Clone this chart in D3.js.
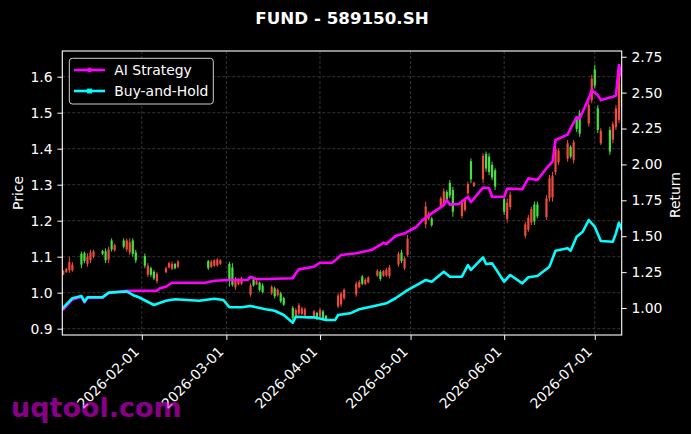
<!DOCTYPE html>
<html>
<head>
<meta charset="utf-8">
<script src="https://cdn.jsdelivr.net/npm/d3@7"></script>
<style>
	body { margin: 0; background: #000; }
	svg text { font-family: "DejaVu Sans", sans-serif; }
</style>
</head>
<body>
<div id="chart"></div>
<script>
// candles (price axis), one per trading day
const candleDates = [
	"2026-01-06", "2026-01-07", "2026-01-08", "2026-01-09",
	"2026-01-12", "2026-01-13", "2026-01-14", "2026-01-15", "2026-01-16",
	"2026-01-19", "2026-01-20", "2026-01-21", "2026-01-22", "2026-01-23",
	"2026-01-26", "2026-01-27", "2026-01-28", "2026-01-29", "2026-01-30",
	"2026-02-02", "2026-02-03", "2026-02-04", "2026-02-05", "2026-02-06",
	"2026-02-09", "2026-02-10", "2026-02-11", "2026-02-12", "2026-02-13",
	"2026-02-23", "2026-02-24", "2026-02-25", "2026-02-26", "2026-02-27",
	"2026-03-02", "2026-03-03", "2026-03-04", "2026-03-05", "2026-03-06",
	"2026-03-09", "2026-03-10", "2026-03-11", "2026-03-12", "2026-03-13",
	"2026-03-16", "2026-03-17", "2026-03-18", "2026-03-19", "2026-03-20",
	"2026-03-23", "2026-03-24", "2026-03-25", "2026-03-26", "2026-03-27",
	"2026-03-30", "2026-03-31", "2026-04-01", "2026-04-02", "2026-04-03",
	"2026-04-07", "2026-04-08", "2026-04-09",
	"2026-04-13", "2026-04-14", "2026-04-15", "2026-04-16", "2026-04-17",
	"2026-04-20", "2026-04-21", "2026-04-22", "2026-04-23", "2026-04-24",
	"2026-04-27", "2026-04-28", "2026-04-29", "2026-04-30",
	"2026-05-06", "2026-05-07", "2026-05-08",
	"2026-05-11", "2026-05-12", "2026-05-13", "2026-05-14", "2026-05-15",
	"2026-05-18", "2026-05-19", "2026-05-20", "2026-05-21", "2026-05-22",
	"2026-05-25", "2026-05-26", "2026-05-27", "2026-05-28", "2026-05-29",
	"2026-06-01", "2026-06-02", "2026-06-03",
	"2026-06-08", "2026-06-09", "2026-06-10", "2026-06-11", "2026-06-12",
	"2026-06-15", "2026-06-16", "2026-06-17", "2026-06-18", "2026-06-19",
	"2026-06-22", "2026-06-23", "2026-06-24", "2026-06-25", "2026-06-26",
	"2026-06-29", "2026-06-30", "2026-07-01", "2026-07-02", "2026-07-03",
	"2026-07-06", "2026-07-07", "2026-07-08", "2026-07-09", "2026-07-10",
];
const candleOpen = [
	1.051, 1.057, 1.062, 1.062,
	1.108, 1.110, 1.080, 1.090, 1.100,
	1.116, 1.115, 1.092, 1.145, 1.118,
	1.145, 1.120, 1.112, 1.145, 1.112,
	1.102, 1.050, 1.068, 1.058, 1.032,
	1.057, 1.070, 1.066, 1.080, 1.072,
	1.088, 1.072, 1.075, 1.076, 1.080,
	1.080, 1.070, 1.015, 1.024, 1.025,
	0.995, 1.036, 1.023, 1.028, 1.020,
	0.998, 1.012, 0.993, 0.998, 0.985,
	0.958, 0.933, 0.942, 0.941, 0.937,
	0.933, 0.944, 0.933, 0.948, 0.936,
	0.962, 0.968, 0.985,
	0.995, 1.015, 1.045, 1.024, 1.029,
	1.047, 1.058, 1.047, 1.048, 1.046,
	1.078, 1.112, 1.068, 1.105,
	1.190, 1.205, 1.206,
	1.242, 1.250, 1.280, 1.305, 1.285,
	1.213, 1.230, 1.276, 1.365, 1.296,
	1.315, 1.385, 1.378, 1.355, 1.340,
	1.260, 1.205, 1.238,
	1.158, 1.175, 1.195, 1.245, 1.245,
	1.210, 1.262, 1.265, 1.335, 1.362,
	1.372, 1.405, 1.368, 1.485, 1.498,
	1.470, 1.535, 1.620, 1.512, 1.415,
	1.452, 1.425, 1.460, 1.480, 1.580,
];
const candleHigh = [
	1.063, 1.069, 1.099, 1.085,
	1.114, 1.114, 1.109, 1.119, 1.119,
	1.119, 1.123, 1.128, 1.151, 1.137,
	1.151, 1.151, 1.151, 1.151, 1.119,
	1.109, 1.082, 1.072, 1.063, 1.058,
	1.072, 1.086, 1.086, 1.082, 1.091,
	1.091, 1.091, 1.093, 1.096, 1.093,
	1.086, 1.082, 1.044, 1.040, 1.044,
	1.026, 1.040, 1.035, 1.031, 1.026,
	1.021, 1.017, 1.012, 1.003, 0.989,
	0.963, 0.957, 0.971, 0.961, 0.959,
	0.952, 0.947, 0.957, 0.952, 0.938,
	0.998, 1.003, 1.012,
	1.031, 1.035, 1.049, 1.040, 1.046,
	1.065, 1.063, 1.063, 1.068, 1.077,
	1.114, 1.119, 1.100, 1.160,
	1.253, 1.225, 1.211,
	1.267, 1.290, 1.285, 1.313, 1.294,
	1.258, 1.262, 1.308, 1.373, 1.308,
	1.387, 1.392, 1.387, 1.364, 1.346,
	1.267, 1.262, 1.281,
	1.197, 1.216, 1.239, 1.253, 1.253,
	1.271, 1.327, 1.336, 1.410, 1.401,
	1.424, 1.410, 1.424, 1.489, 1.508,
	1.531, 1.605, 1.633, 1.521, 1.457,
	1.461, 1.475, 1.521, 1.623, 1.590,
];
const candleLow = [
	1.049, 1.055, 1.055, 1.058,
	1.068, 1.082, 1.072, 1.082, 1.096,
	1.105, 1.082, 1.082, 1.114, 1.114,
	1.123, 1.114, 1.105, 1.100, 1.082,
	1.068, 1.044, 1.044, 1.035, 1.026,
	1.054, 1.068, 1.063, 1.065, 1.068,
	1.063, 1.068, 1.072, 1.072, 1.077,
	1.017, 1.017, 1.008, 1.021, 1.021,
	0.989, 1.017, 1.021, 1.003, 0.998,
	0.994, 0.984, 0.989, 0.971, 0.963,
	0.924, 0.929, 0.938, 0.938, 0.933,
	0.929, 0.924, 0.929, 0.924, 0.924,
	0.957, 0.961, 0.980,
	0.989, 1.012, 1.021, 1.021, 1.026,
	1.044, 1.033, 1.044, 1.044, 1.040,
	1.072, 1.082, 1.063, 1.100,
	1.179, 1.202, 1.183,
	1.239, 1.244, 1.253, 1.262, 1.211,
	1.207, 1.225, 1.271, 1.304, 1.294,
	1.304, 1.336, 1.327, 1.313, 1.285,
	1.216, 1.195, 1.230,
	1.151, 1.169, 1.188, 1.188, 1.207,
	1.202, 1.253, 1.253, 1.327, 1.355,
	1.364, 1.373, 1.359, 1.447, 1.433,
	1.461, 1.526, 1.568, 1.443, 1.410,
	1.383, 1.415, 1.452, 1.471, 1.507,
];
const candleClose = [
	1.060, 1.066, 1.085, 1.078,
	1.078, 1.088, 1.100, 1.112, 1.115,
	1.108, 1.090, 1.120, 1.120, 1.132,
	1.128, 1.145, 1.140, 1.108, 1.090,
	1.075, 1.075, 1.050, 1.040, 1.052,
	1.068, 1.082, 1.080, 1.068, 1.086,
	1.068, 1.086, 1.090, 1.092, 1.090,
	1.035, 1.022, 1.038, 1.036, 1.040,
	1.020, 1.020, 1.032, 1.008, 1.002,
	1.016, 0.990, 1.008, 0.976, 0.967,
	0.930, 0.952, 0.965, 0.956, 0.954,
	0.948, 0.928, 0.952, 0.928, 0.927,
	0.992, 0.998, 1.008,
	1.025, 1.030, 1.025, 1.036, 1.042,
	1.061, 1.038, 1.060, 1.064, 1.070,
	1.108, 1.088, 1.095, 1.150,
	1.240, 1.220, 1.188,
	1.262, 1.282, 1.258, 1.270, 1.225,
	1.250, 1.258, 1.302, 1.315, 1.305,
	1.380, 1.345, 1.335, 1.320, 1.295,
	1.225, 1.250, 1.272,
	1.190, 1.208, 1.232, 1.198, 1.212,
	1.262, 1.318, 1.325, 1.400, 1.395,
	1.415, 1.378, 1.418, 1.455, 1.442,
	1.522, 1.595, 1.575, 1.452, 1.450,
	1.392, 1.468, 1.512, 1.610, 1.515,
];

// cumulative return lines (return axis)
const strategyDates = [
	"2026-01-05", "2026-01-06", "2026-01-09", "2026-01-12", "2026-01-13", "2026-01-14",
	"2026-01-19", "2026-01-21", "2026-01-27", "2026-02-06", "2026-02-07", "2026-02-09",
	"2026-02-11", "2026-02-22", "2026-02-25", "2026-03-02", "2026-03-08", "2026-03-09",
	"2026-03-11", "2026-03-23", "2026-03-24", "2026-03-25", "2026-03-30", "2026-04-01",
	"2026-04-05", "2026-04-06", "2026-04-07", "2026-04-08", "2026-04-13", "2026-04-18",
	"2026-04-21", "2026-04-22", "2026-04-23", "2026-04-26", "2026-04-29", "2026-05-03",
	"2026-05-05", "2026-05-08", "2026-05-12", "2026-05-13", "2026-05-14", "2026-05-17",
	"2026-05-20", "2026-05-21", "2026-05-25", "2026-05-27", "2026-05-28", "2026-06-01",
	"2026-06-02", "2026-06-07", "2026-06-09", "2026-06-12", "2026-06-15", "2026-06-17",
	"2026-06-18", "2026-06-22", "2026-06-23", "2026-06-25", "2026-06-26", "2026-06-29",
	"2026-06-30", "2026-07-02", "2026-07-03", "2026-07-07", "2026-07-08", "2026-07-09",
	"2026-07-10",
];
const strategyValues = [
	0.980, 0.990, 1.060, 1.078, 1.040, 1.070,
	1.072, 1.105, 1.120, 1.120, 1.137, 1.148,
	1.176, 1.176, 1.190, 1.195, 1.195, 1.218,
	1.200, 1.207, 1.242, 1.269, 1.288, 1.315,
	1.315, 1.330, 1.350, 1.369, 1.381, 1.404,
	1.439, 1.455, 1.446, 1.501, 1.520, 1.566,
	1.613, 1.659, 1.717, 1.752, 1.720, 1.724,
	1.775, 1.738, 1.839, 1.834, 1.775, 1.775,
	1.832, 1.827, 1.903, 1.891, 1.973, 2.019,
	2.170, 2.208, 2.251, 2.330, 2.320, 2.460,
	2.518, 2.483, 2.448, 2.471, 2.480, 2.692,
	2.609,
];
const holdDates = [
	"2026-01-05", "2026-01-06", "2026-01-09", "2026-01-12", "2026-01-13", "2026-01-14",
	"2026-01-19", "2026-01-21", "2026-01-27", "2026-01-29", "2026-01-31", "2026-02-05",
	"2026-02-09", "2026-02-12", "2026-02-20", "2026-02-25", "2026-02-28", "2026-03-02",
	"2026-03-06", "2026-03-09", "2026-03-14", "2026-03-17", "2026-03-20", "2026-03-23",
	"2026-03-24", "2026-03-28", "2026-03-30", "2026-04-03", "2026-04-06", "2026-04-07",
	"2026-04-11", "2026-04-14", "2026-04-19", "2026-04-23", "2026-04-26", "2026-04-30",
	"2026-05-03", "2026-05-06", "2026-05-08", "2026-05-12", "2026-05-14", "2026-05-18",
	"2026-05-20", "2026-05-21", "2026-05-25", "2026-05-26", "2026-05-28", "2026-06-01",
	"2026-06-03", "2026-06-07", "2026-06-09", "2026-06-12", "2026-06-16", "2026-06-18",
	"2026-06-22", "2026-06-23", "2026-06-25", "2026-06-27", "2026-06-29", "2026-07-01",
	"2026-07-03", "2026-07-07", "2026-07-08", "2026-07-09", "2026-07-10",
];
const holdValues = [
	0.990, 1.003, 1.068, 1.084, 1.044, 1.075,
	1.075, 1.107, 1.115, 1.091, 1.075, 1.021,
	1.051, 1.061, 1.051, 1.065, 1.056, 1.005,
	1.005, 1.014, 0.991, 0.981, 0.951, 0.898,
	0.939, 0.935, 0.935, 0.916, 0.916, 0.951,
	0.963, 0.991, 1.014, 1.033, 1.068, 1.125,
	1.160, 1.195, 1.183, 1.253, 1.218, 1.218,
	1.299, 1.265, 1.353, 1.306, 1.311, 1.183,
	1.230, 1.172, 1.214, 1.223, 1.288, 1.399,
	1.416, 1.399, 1.497, 1.531, 1.613, 1.566,
	1.467, 1.462, 1.520, 1.594, 1.543,
];

const priceTicks = [0.9, 1.0, 1.1, 1.2, 1.3, 1.4, 1.5, 1.6];
const returnTicks = [1.0, 1.25, 1.5, 1.75, 2.0, 2.25, 2.5, 2.75];
const dateTicks = ["2026-02-01", "2026-03-01", "2026-04-01", "2026-05-01", "2026-06-01", "2026-07-01"];

const width = 691;
const height = 434;
const plot = { left: 62.3, right: 621.7, top: 51, bottom: 335 };
const fontSize = 13.9;
const upColor = "#ef4a3c";
const downColor = "#46e03c";

const parseDate = d3.timeParse("%Y-%m-%d");

const svg = d3
	.select("#chart")
	.append("svg")
	.attr("width", width)
	.attr("height", height)
	.style("background", "#000");

const x = d3
	.scaleTime()
	.domain([new Date(2026, 0, 5, 16), new Date(2026, 6, 9, 22)])
	.range([plot.left, plot.right]);

const yPrice = d3.scaleLinear().domain([0.8825, 1.6714]).range([plot.bottom, plot.top]);
const yReturn = d3.scaleLinear().domain([0.812, 2.79]).range([plot.bottom, plot.top]);

svg.append("defs")
	.append("clipPath")
	.attr("id", "plot-clip")
	.append("rect")
	.attr("x", plot.left)
	.attr("y", plot.top)
	.attr("width", plot.right - plot.left)
	.attr("height", plot.bottom - plot.top);

// grid
const grid = svg.append("g").attr("stroke", "#4a4a4a").attr("stroke-width", 0.7).attr("stroke-dasharray", "3,2");
grid.selectAll("line.h")
	.data(priceTicks)
	.enter()
	.append("line")
	.attr("x1", plot.left)
	.attr("x2", plot.right)
	.attr("y1", (d) => yPrice(d))
	.attr("y2", (d) => yPrice(d));
grid.selectAll("line.v")
	.data(dateTicks)
	.enter()
	.append("line")
	.attr("x1", (d) => x(parseDate(d)))
	.attr("x2", (d) => x(parseDate(d)))
	.attr("y1", plot.top)
	.attr("y2", plot.bottom);

const plotArea = svg.append("g").attr("clip-path", "url(#plot-clip)");

// candlesticks
const candles = candleDates.map((d, i) => ({
	date: parseDate(d),
	open: candleOpen[i],
	high: candleHigh[i],
	low: candleLow[i],
	close: candleClose[i],
}));

const candle = plotArea
	.selectAll("g.candle")
	.data(candles)
	.enter()
	.append("g")
	.attr("class", "candle")
	.attr("fill", (d) => (d.close >= d.open ? upColor : downColor))
	.attr("stroke", (d) => (d.close >= d.open ? upColor : downColor));

candle.append("line")
	.attr("x1", (d) => x(d.date))
	.attr("x2", (d) => x(d.date))
	.attr("y1", (d) => yPrice(d.high))
	.attr("y2", (d) => yPrice(d.low))
	.attr("stroke-width", 1);

candle.append("rect")
	.attr("x", (d) => x(d.date) - 1.1)
	.attr("width", 2.2)
	.attr("y", (d) => yPrice(Math.max(d.open, d.close)))
	.attr("height", (d) => Math.max(1, Math.abs(yPrice(d.open) - yPrice(d.close))))
	.attr("stroke", "none");

// return lines
const line = d3
	.line()
	.x((d) => x(d.date))
	.y((d) => yReturn(d.value));

const strategy = strategyDates.map((d, i) => ({ date: parseDate(d), value: strategyValues[i] }));
const hold = holdDates.map((d, i) => ({ date: parseDate(d), value: holdValues[i] }));

plotArea.append("path")
	.datum(strategy)
	.attr("d", line)
	.attr("fill", "none")
	.attr("stroke", "#ff00ff")
	.attr("stroke-width", 2.6)
	.attr("stroke-linejoin", "round");

plotArea.append("path")
	.datum(hold)
	.attr("d", line)
	.attr("fill", "none")
	.attr("stroke", "#00ffff")
	.attr("stroke-width", 2.6)
	.attr("stroke-linejoin", "round");

// axes
function styleAxis(g) {
	g.select(".domain").remove();
	g.selectAll(".tick line").attr("stroke", "#fff").attr("stroke-width", 1);
	g.selectAll(".tick text")
		.attr("fill", "#fff")
		.style("font-size", fontSize + "px")
		.style("font-family", "DejaVu Sans");
}

svg.append("g")
	.attr("transform", `translate(${plot.left},0)`)
	.call(d3.axisLeft(yPrice).tickValues(priceTicks).tickFormat(d3.format(".1f")).tickSize(4.9).tickPadding(4.9))
	.call(styleAxis);

svg.append("g")
	.attr("transform", `translate(${plot.right},0)`)
	.call(d3.axisRight(yReturn).tickValues(returnTicks).tickFormat(d3.format(".2f")).tickSize(4.9).tickPadding(4.9))
	.call(styleAxis);

const xAxis = svg
	.append("g")
	.attr("transform", `translate(0,${plot.bottom})`)
	.call(d3.axisBottom(x).tickValues(dateTicks.map(parseDate)).tickFormat(d3.timeFormat("%Y-%m-%d")).tickSize(4.9))
	.call(styleAxis);

// rotated date labels, right end anchored under the tick
xAxis.selectAll(".tick text")
	.attr("text-anchor", "end")
	.attr("x", -2.3)
	.attr("y", 17.5)
	.attr("dy", 0)
	.attr("transform", "rotate(-45,-2.3,17.5)");

// frame
svg.append("rect")
	.attr("x", plot.left)
	.attr("y", plot.top)
	.attr("width", plot.right - plot.left)
	.attr("height", plot.bottom - plot.top)
	.attr("fill", "none")
	.attr("stroke", "#fff")
	.attr("stroke-width", 1.1);

// labels
svg.append("text")
	.attr("x", (plot.left + plot.right) / 2)
	.attr("y", 24)
	.attr("text-anchor", "middle")
	.attr("fill", "#fff")
	.style("font-size", "16.7px")
	.style("font-weight", "bold")
	.text("FUND - 589150.SH");

svg.append("text")
	.attr("transform", `translate(23.3,${(plot.top + plot.bottom) / 2}) rotate(-90)`)
	.attr("text-anchor", "middle")
	.attr("fill", "#fff")
	.style("font-size", fontSize + "px")
	.text("Price");

svg.append("text")
	.attr("transform", `translate(680,${(plot.top + plot.bottom) / 2 + 2}) rotate(-90)`)
	.attr("text-anchor", "middle")
	.attr("fill", "#fff")
	.style("font-size", fontSize + "px")
	.text("Return");

// legend
const legend = svg.append("g").attr("transform", "translate(69.3,58.3)");
legend.append("rect")
	.attr("width", 144)
	.attr("height", 45.7)
	.attr("rx", 3)
	.attr("fill", "#000")
	.attr("stroke", "#cfcfcf")
	.attr("stroke-width", 1);

const legendItems = [
	{ name: "AI Strategy", color: "#ff00ff", marker: "circle" },
	{ name: "Buy-and-Hold", color: "#00ffff", marker: "square" },
];

const legendRow = legend
	.selectAll("g.item")
	.data(legendItems)
	.enter()
	.append("g")
	.attr("class", "item")
	.attr("transform", (d, i) => `translate(0,${11.7 + i * 21})`);

legendRow.append("line")
	.attr("x1", 4.7)
	.attr("x2", 35.7)
	.attr("stroke", (d) => d.color)
	.attr("stroke-width", 2.6);

legendRow.filter((d) => d.marker === "circle")
	.append("circle")
	.attr("cx", 20.2)
	.attr("r", 2.4)
	.attr("fill", (d) => d.color);

legendRow.filter((d) => d.marker === "square")
	.append("rect")
	.attr("x", 17.8)
	.attr("y", -2.4)
	.attr("width", 4.8)
	.attr("height", 4.8)
	.attr("fill", (d) => d.color);

legendRow.append("text")
	.attr("x", 45)
	.attr("y", 5)
	.attr("fill", "#fff")
	.style("font-size", fontSize + "px")
	.text((d) => d.name);

// watermark, semi-transparent over the date labels
svg.append("text")
	.attr("x", 11)
	.attr("y", 417)
	.attr("fill", "#ff00ff")
	.attr("fill-opacity", 0.55)
	.style("font-size", "27px")
	.style("font-weight", "bold")
	.text("uqtool.com");
</script>
</body>
</html>
